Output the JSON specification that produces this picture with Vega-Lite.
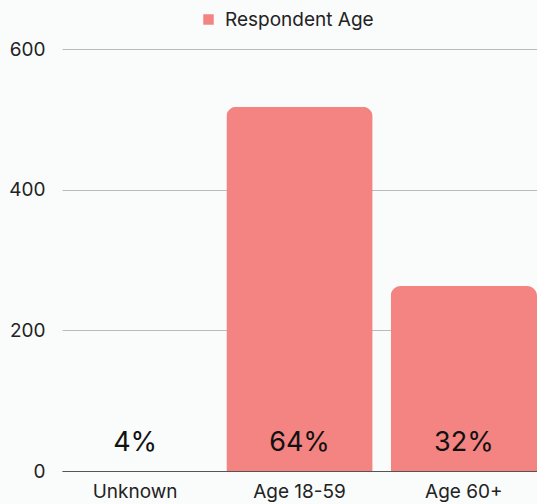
{
  "$schema": "https://vega.github.io/schema/vega-lite/v6.json",
  "autosize": {"type": "none"},
  "width": 475,
  "height": 422,
  "padding": {"left": 62, "top": 49, "right": 0, "bottom": 33},
  "background": "#fafbfb",
  "config": {
    "view": {"stroke": null},
    "font": "Inter",
    "axis": {"labelFont": "Inter", "labelColor": "#222", "labelFontSize": 19}
  },
  "data": {
    "values": [
      {"age": "Unknown", "count": 0, "pct": "4%", "series": "Respondent Age"},
      {"age": "Age 18-59", "count": 518, "pct": "64%", "series": "Respondent Age"},
      {"age": "Age 60+", "count": 263, "pct": "32%", "series": "Respondent Age"}
    ]
  },
  "encoding": {
    "x": {
      "field": "age", "type": "nominal", "sort": null,
      "scale": {"paddingInner": 0.11, "paddingOuter": 0},
      "axis": {"title": null, "labelAngle": 0, "ticks": false, "domain": true, "domainColor": "#555", "labelPadding": 11}
    }
  },
  "layer": [
    {
      "mark": {"type": "bar", "cornerRadiusTopLeft": 10, "cornerRadiusTopRight": 10},
      "encoding": {
        "y": {
          "field": "count", "type": "quantitative",
          "scale": {"domain": [0, 600]},
          "axis": {"title": null, "values": [0, 200, 400, 600], "ticks": false, "domain": false, "gridColor": "#bbbbbb", "labelPadding": 17}
        },
        "color": {
          "field": "series", "type": "nominal",
          "scale": {"range": ["#f38481"]},
          "legend": {"title": null, "orient": "none", "legendX": 137, "legendY": -39, "symbolType": "square", "symbolSize": 110, "labelFontSize": 19, "labelOffset": 7, "labelColor": "#222", "labelFont": "Inter", "symbolOpacity": 1}
        }
      }
    },
    {
      "mark": {"type": "text", "fontSize": 27, "color": "#111", "baseline": "middle", "dy": -28, "font": "Inter"},
      "encoding": {
        "y": {"datum": 0, "type": "quantitative"},
        "text": {"field": "pct"}
      }
    }
  ]
}
